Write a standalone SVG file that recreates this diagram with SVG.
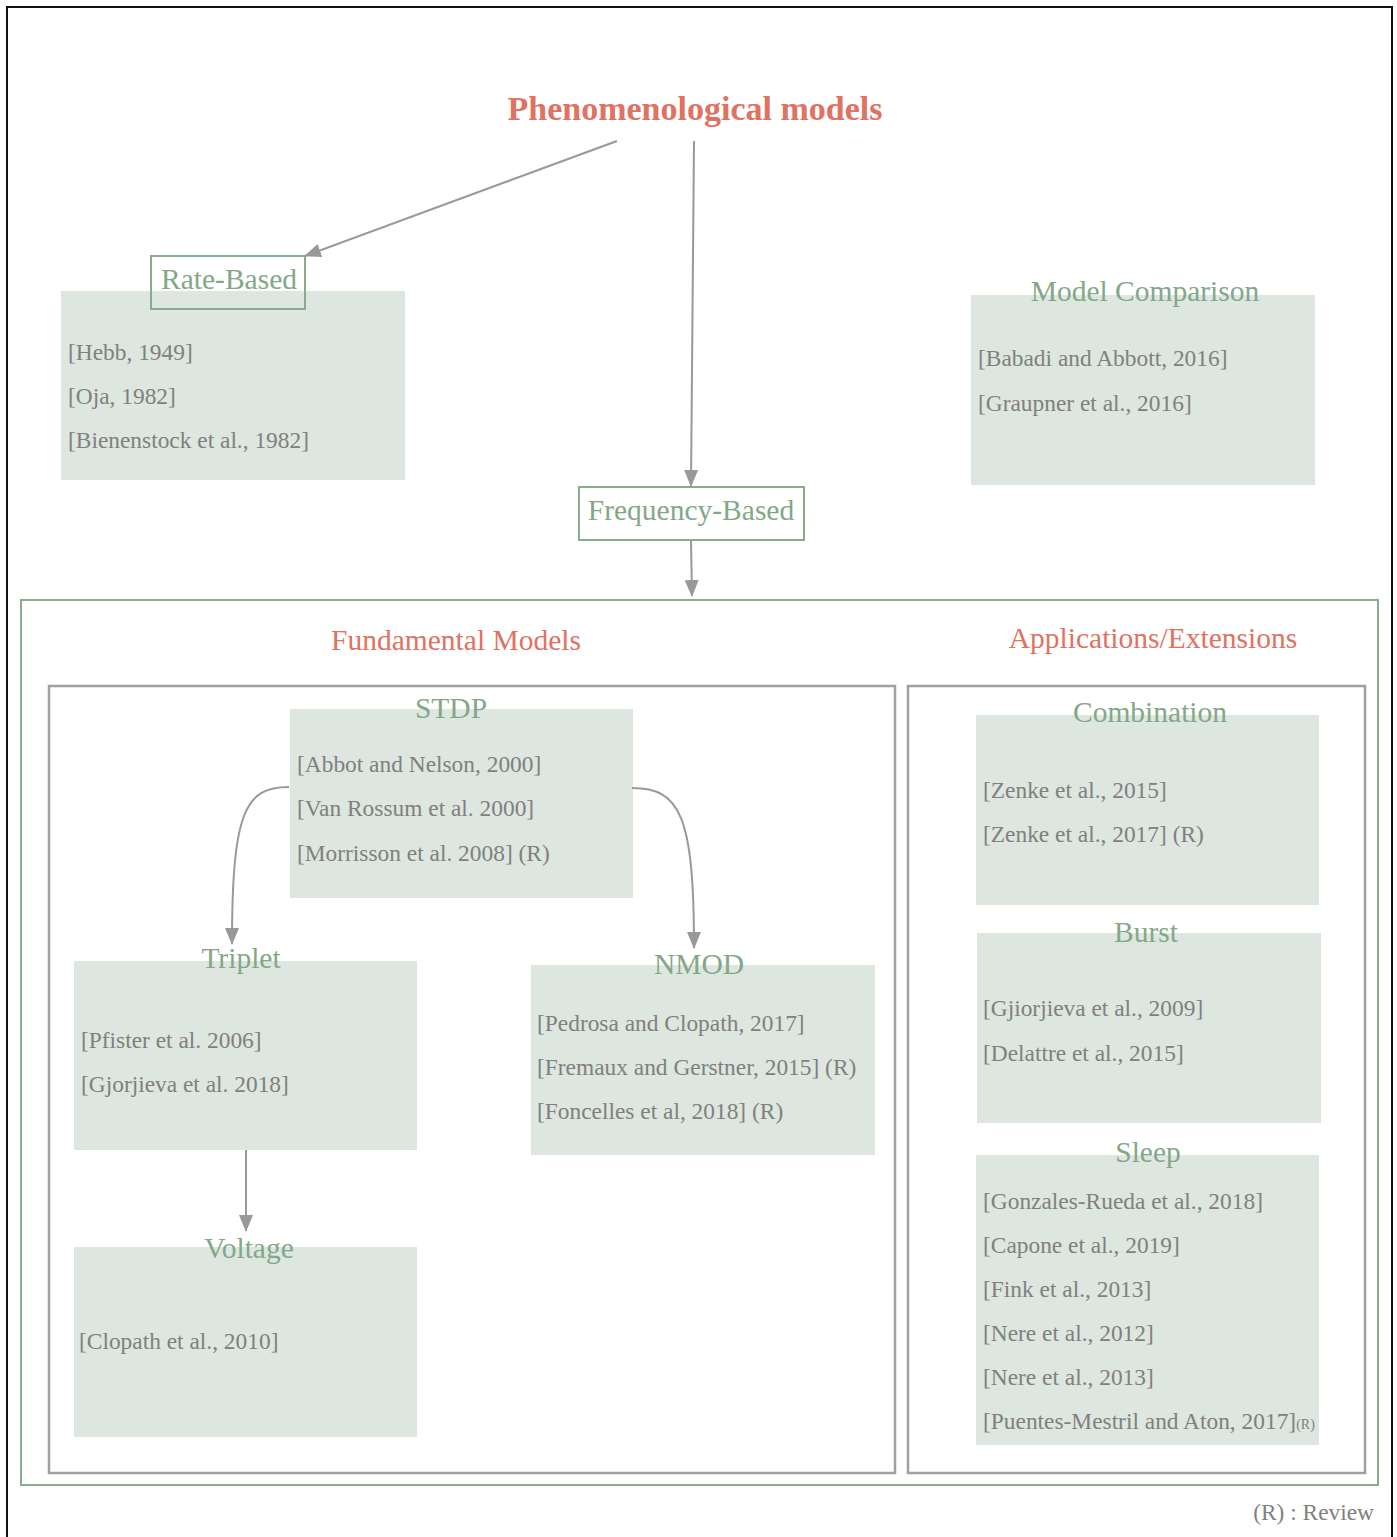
<svg xmlns="http://www.w3.org/2000/svg" width="1397" height="1537" viewBox="0 0 1397 1537">
<style>
text{font-family:"Liberation Serif","Times New Roman",serif}
.ttl{font-size:34px;font-weight:bold;fill:#e07262}
.sec{font-size:29.5px;fill:#e07262;text-anchor:middle}
.hd{font-size:29.5px;fill:#82a888;text-anchor:middle}
.ref{font-size:23.4px;fill:#808080}
.bg{fill:#dde6df}
.gbox{fill:none;stroke:#88ad8e;stroke-width:2}
.grey{fill:none;stroke:#a0a0a0;stroke-width:2.5}
.con{fill:none;stroke:#999;stroke-width:2;marker-end:url(#ah)}
</style>
<defs>
<marker id="ah" markerWidth="18" markerHeight="18" refX="16" refY="7" orient="auto" markerUnits="userSpaceOnUse" viewBox="0 0 18 14">
<path d="M0,0 L17,7 L0,14 z" fill="#999"/>
</marker>
</defs>
<rect x="0" y="0" width="1397" height="1537" fill="#fff"/>
<rect x="7" y="7" width="1385" height="1545" fill="none" stroke="#111" stroke-width="2"/>

<g id="title"><text class="ttl" x="695" y="120" text-anchor="middle">Phenomenological models</text></g>

<g id="rate-based">
<rect class="bg" x="61" y="291" width="344" height="189"/>
<rect class="gbox" x="151" y="256" width="154" height="53"/>
<text class="hd" x="229" y="289">Rate-Based</text>
<text class="ref" x="68" y="360">[Hebb, 1949]</text>
<text class="ref" x="68" y="404">[Oja, 1982]</text>
<text class="ref" x="68" y="448">[Bienenstock et al., 1982]</text>
</g>

<g id="model-comparison">
<rect class="bg" x="971" y="295" width="344" height="190"/>
<text class="hd" x="1145" y="301">Model Comparison</text>
<text class="ref" x="978" y="366">[Babadi and Abbott, 2016]</text>
<text class="ref" x="978" y="411">[Graupner et al., 2016]</text>
</g>

<g id="frequency-based">
<rect class="gbox" x="579" y="487" width="225" height="53"/>
<text class="hd" x="691" y="520">Frequency-Based</text>
</g>

<g id="container">
<rect class="gbox" x="21" y="600" width="1357" height="885"/>
<text class="sec" x="456" y="650">Fundamental Models</text>
<text class="sec" x="1153" y="648">Applications/Extensions</text>
</g>

<g id="fundamental">
<rect class="grey" x="49" y="686" width="846" height="787"/>
</g>
<g id="applications">
<rect class="grey" x="908" y="686" width="457" height="787"/>
</g>

<g id="stdp">
<rect class="bg" x="290" y="709" width="343" height="189"/>
<text class="hd" x="451" y="718">STDP</text>
<text class="ref" x="297" y="772">[Abbot and Nelson, 2000]</text>
<text class="ref" x="297" y="816">[Van Rossum et al. 2000]</text>
<text class="ref" x="297" y="861">[Morrisson et al. 2008] (R)</text>
</g>

<g id="triplet">
<rect class="bg" x="74" y="961" width="343" height="189"/>
<text class="hd" x="241" y="968">Triplet</text>
<text class="ref" x="81" y="1048">[Pfister et al. 2006]</text>
<text class="ref" x="81" y="1092">[Gjorjieva et al. 2018]</text>
</g>

<g id="nmod">
<rect class="bg" x="531" y="965" width="344" height="190"/>
<text class="hd" x="699" y="974">NMOD</text>
<text class="ref" x="537" y="1031">[Pedrosa and Clopath, 2017]</text>
<text class="ref" x="537" y="1075">[Fremaux and Gerstner, 2015] (R)</text>
<text class="ref" x="537" y="1119">[Foncelles et al, 2018] (R)</text>
</g>

<g id="voltage">
<rect class="bg" x="74" y="1247" width="343" height="190"/>
<text class="hd" x="249" y="1258">Voltage</text>
<text class="ref" x="79" y="1349">[Clopath et al., 2010]</text>
</g>

<g id="combination">
<rect class="bg" x="976" y="715" width="343" height="190"/>
<text class="hd" x="1150" y="722">Combination</text>
<text class="ref" x="983" y="798">[Zenke et al., 2015]</text>
<text class="ref" x="983" y="842">[Zenke et al., 2017] (R)</text>
</g>

<g id="burst">
<rect class="bg" x="977" y="933" width="344" height="190"/>
<text class="hd" x="1146" y="942">Burst</text>
<text class="ref" x="983" y="1016">[Gjiorjieva et al., 2009]</text>
<text class="ref" x="983" y="1061">[Delattre et al., 2015]</text>
</g>

<g id="sleep">
<rect class="bg" x="976" y="1155" width="343" height="290"/>
<text class="hd" x="1148" y="1162">Sleep</text>
<text class="ref" x="983" y="1209">[Gonzales-Rueda et al., 2018]</text>
<text class="ref" x="983" y="1253">[Capone et al., 2019]</text>
<text class="ref" x="983" y="1297">[Fink et al., 2013]</text>
<text class="ref" x="983" y="1341">[Nere et al., 2012]</text>
<text class="ref" x="983" y="1385">[Nere et al., 2013]</text>
<text class="ref" x="983" y="1429">[Puentes-Mestril and Aton, 2017]<tspan font-size="14">(R)</tspan></text>
</g>

<g id="legend"><text class="ref" x="1374" y="1520" text-anchor="end">(R) : Review</text></g>

<g id="connectors">
<path class="con" d="M617,141 L305,256"/>
<path class="con" d="M694,141 L691,486"/>
<path class="con" d="M691,541 L692,596"/>
<path class="con" d="M289,787 C245,787 232,812 232,944"/>
<path class="con" d="M632,788 C680,788 694,815 694,948"/>
<path class="con" d="M246,1150 L246,1231"/>
</g>
</svg>
